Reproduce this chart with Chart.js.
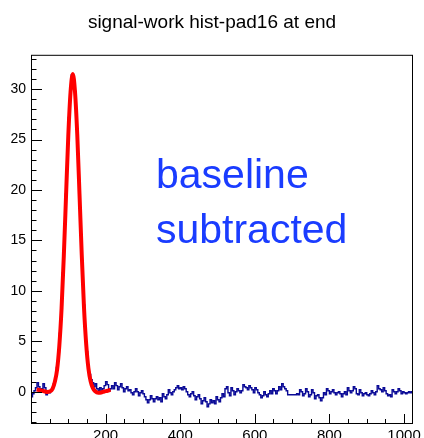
<!DOCTYPE html>
<html lang="en">
<head>
<meta charset="UTF-8">
<title>signal-work hist-pad16 at end</title>
<script src="https://cdn.jsdelivr.net/npm/chart.js"></script>
<style>
  body { margin: 0; background: #fff; }
</style>
</head>
<body>
<canvas id="hist" width="424" height="438"></canvas>
<script>
// histogram, 256 bins of width 4 between 0 and 1024
const binWidth = 4;
const histValues = [
  -0.5, -0.2, 0.1, 0.4, 0.9, 0.5, 0.0, 0.3, 0.8, 0.4,
  -0.3, 0.0, -0.1, 0.1, 0.4, 0.8, 1.4, 2.4, 3.9, 5.8,
  8.5, 11.8, 15.5, 19.6, 23.7, 27.2, 29.9, 31.4, 31.2, 29.8,
  27.1, 23.6, 19.7, 15.6, 11.8, 8.6, 6.0, 4.0, 2.6, 1.7,
  1.2, 0.9, 0.5, 0.8, 0.3, 0.1, 0.4, 0.0, 0.3, 0.6,
  1.0, 0.7, 0.1, 0.3, 0.6, 0.3, 0.9, 0.6, 0.2, 0.5,
  0.8, 0.4, 0.0, 0.3, 0.5, 0.1, 0.2, -0.1, -0.3, 0.0,
  0.3, 0.0, -0.4, -0.1, 0.1, -0.2, -0.5, -0.8, -1.1, -0.8,
  -0.4, -0.7, -1.0, -0.7, -0.5, -0.8, -0.6, -1.0, -0.2, -0.5,
  -0.7, -0.3, 0.2, -0.1, -0.3, 0.0, 0.2, 0.4, 0.6, 0.3,
  0.4, 0.2, 0.5, 0.3, 0.0, -0.3, -0.5, -0.2, 0.0, -0.4,
  -0.8, -0.5, -0.3, -0.7, -1.2, -0.9, -0.6, -1.0, -1.5, -1.2,
  -0.8, -1.1, -0.9, -1.2, -0.5, -0.8, -1.0, -0.6, -0.2, -0.5,
  0.3, 0.5, -0.1, -0.4, 0.4, 0.1, -0.3, 0.0, 0.3, 0.1,
  -0.1, 0.1, 0.7, 0.5, 0.4, 0.2, 0.6, 0.4, 0.2, -0.1,
  0.4, 0.2, -0.1, -0.3, -0.6, -0.4, 0.0, -0.3, -0.5, -0.2,
  0.1, -0.2, 0.3, 0.1, -0.2, 0.1, 0.5, 0.2, 0.8, 0.5,
  0.3, 0.1, -0.3, -0.3, -0.3, -0.3, -0.3, -0.3, -0.2, -0.3,
  0.2, 0.0, -0.4, -0.2, 0.3, 0.0, -0.5, -0.3, 0.2, -0.1,
  -0.7, -0.4, -0.3, -0.6, -0.9, -0.6, -0.1, -0.3, 0.3, 0.1,
  -0.2, 0.0, 0.2, -0.1, -0.3, -0.1, 0.0, -0.2, -0.5, -0.2,
  0.0, -0.3, 0.4, 0.1, -0.1, 0.1, 0.5, 0.3, -0.2, -0.3,
  0.2, -0.1, -0.4, -0.2, -0.1, -0.3, -0.4, -0.2, 0.1, -0.1,
  -0.3, 0.0, 0.6, 0.3, 0.2, 0.0, 0.4, 0.1, -0.2, -0.4,
  -0.3, -0.5, 0.2, 0.0, -0.2, 0.0, 0.3, 0.1, -0.2, 0.0,
  -0.1, -0.2, -0.1, 0.0, -0.1, 0.0
];

// red fit curve
const fitX = [15, 25, 35, 45, 52, 58, 64, 70, 76, 82, 88, 94, 100, 106, 112,
  118, 124, 130, 136, 142, 148, 154, 160, 166, 172, 180, 188, 196, 205, 213];
const fitY = [0.22, 0.15, 0.05, -0.02, 0.05, 0.3, 1.0, 2.2, 4.6, 8.3, 13.5, 19.5, 25.4, 29.7, 31.5,
  29.7, 25.5, 19.6, 13.6, 8.4, 4.7, 2.3, 1.0, 0.35, 0.05, -0.1, -0.08, 0.02, 0.1, 0.2];

const xMajorTicks = [200, 400, 600, 800, 1000];
const yMajorTicks = [0, 5, 10, 15, 20, 25, 30];
const noteLines = ['baseline', 'subtracted'];

// one point per bin low edge, plus the closing edge at the end
const histPoints = histValues.map((v, i) => ({ x: i * binWidth, y: v }));
histPoints.push({ x: histValues.length * binWidth, y: histValues[histValues.length - 1] });
const fitPoints = fitX.map((x, i) => ({ x: x, y: fitY[i] }));

const FONT = 'Liberation Sans, Arial, Helvetica, sans-serif';

// ROOT-like frame with inward ticks + the blue note
const rootFrame = {
  id: 'rootFrame',
  afterDatasetsDraw(chart) {
    const { ctx, chartArea: a, scales: { x, y } } = chart;
    ctx.save();
    ctx.strokeStyle = '#000';
    ctx.lineWidth = 1;
    ctx.strokeRect(a.left + 0.5, a.top + 0.5, a.right - a.left - 1, a.bottom - a.top - 1);

    ctx.beginPath();
    for (let v = Math.ceil(y.min); v <= y.max; v++) {
      const py = Math.round(y.getPixelForValue(v)) + 0.5;
      const len = v % 5 === 0 ? 11 : 5.5;
      ctx.moveTo(a.left, py);
      ctx.lineTo(a.left + len, py);
    }
    for (let v = 50; v < x.max; v += 50) {
      const px = Math.round(x.getPixelForValue(v)) + 0.5;
      const len = v % 200 === 0 ? 10 : 5;
      ctx.moveTo(px, a.bottom);
      ctx.lineTo(px, a.bottom - len);
    }
    ctx.stroke();

    ctx.fillStyle = '#1a3cff';
    ctx.font = '41px ' + FONT;
    ctx.textBaseline = 'alphabetic';
    ctx.textAlign = 'left';
    const tx = x.getPixelForValue(335);
    ctx.fillText(noteLines[0], tx, y.getPixelForValue(20.2));
    ctx.fillText(noteLines[1], tx, y.getPixelForValue(14.75));
    ctx.restore();
  }
};

new Chart(document.getElementById('hist'), {
  type: 'line',
  data: {
    datasets: [
      {
        data: fitPoints,
        borderColor: '#ff0000',
        borderWidth: 4,
        pointRadius: 0,
        cubicInterpolationMode: 'monotone',
        fill: false,
        order: 0
      },
      {
        data: histPoints,
        borderColor: '#0a0a96',
        borderWidth: 1.4,
        pointRadius: 0,
        stepped: 'before',
        fill: false,
        order: 1
      }
    ]
  },
  options: {
    responsive: false,
    animation: false,
    devicePixelRatio: 1,
    layout: { padding: 0 },
    plugins: {
      legend: { display: false },
      tooltip: { enabled: false },
      title: {
        display: true,
        text: 'signal-work hist-pad16 at end',
        color: '#000',
        font: { family: FONT, size: 19, weight: 'normal' },
        padding: { top: 11, bottom: 21 }
      }
    },
    scales: {
      x: {
        type: 'linear',
        min: 0,
        max: 1024,
        grid: { display: false, drawTicks: false },
        border: { display: false },
        afterBuildTicks: s => { s.ticks = xMajorTicks.map(v => ({ value: v })); },
        afterFit: s => { s.height = 14; },
        ticks: {
          color: '#000',
          font: { family: FONT, size: 15 },
          padding: 3,
          maxRotation: 0,
          autoSkip: false,
          callback: v => String(v)
        }
      },
      y: {
        type: 'linear',
        min: -3.2,
        max: 33.4,
        grid: { display: false, drawTicks: false },
        border: { display: false },
        afterBuildTicks: s => { s.ticks = yMajorTicks.map(v => ({ value: v })); },
        afterFit: s => { s.width = 31; },
        ticks: {
          color: '#000',
          font: { family: FONT, size: 14 },
          padding: 5,
          callback: v => String(v)
        }
      },
      // empty right-hand margin so the title stays centred on the canvas
      yRight: {
        type: 'linear',
        position: 'right',
        min: -3.2,
        max: 33.4,
        grid: { display: false, drawTicks: false },
        border: { display: false },
        ticks: { display: false },
        afterFit: s => { s.width = 11; }
      }
    }
  },
  plugins: [rootFrame]
});
</script>
</body>
</html>
